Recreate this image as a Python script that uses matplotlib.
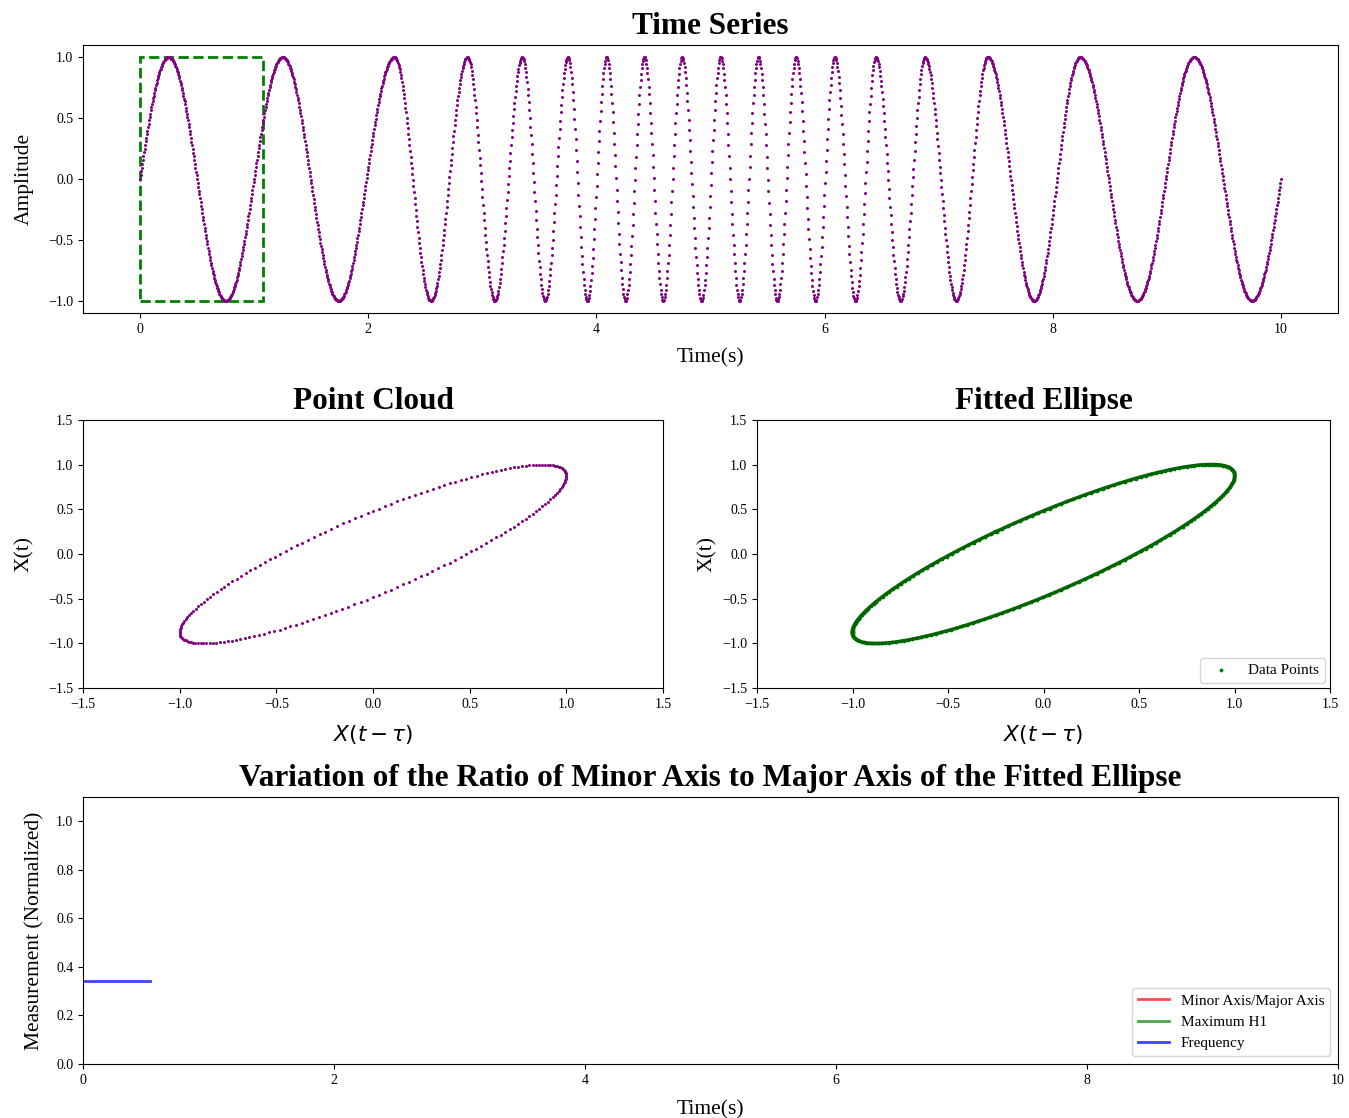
import numpy as np
import matplotlib
matplotlib.use("Agg")
import matplotlib.pyplot as plt
from matplotlib.patches import Rectangle

plt.rcParams['font.family'] = ['Liberation Serif', 'DejaVu Sans']
plt.rcParams['mathtext.fontset'] = 'dejavusans'
plt.rcParams['axes.unicode_minus'] = True

# peak times of the signal
peak_times = [0.25, 1.25, 2.23, 2.87, 3.35, 3.75, 4.09, 4.42, 4.75, 5.09,
              5.42, 5.75, 6.09, 6.45, 6.88, 7.43, 8.24, 9.24]
t_start, t_end = 0.0, 10.0
n_samples = 2000

# analysis window (green box) and embedding delay
window_end = 1.08
tau = 0.08

# bottom panel series
freq_t = [0.0, 0.53]
freq_val = [0.34, 0.34]
ratio_t, ratio_val = [], []
h1_t, h1_val = [], []

# build signal: phase (in cycles) pinned at each observed peak
knot_t = [t_start] + peak_times + [t_end]
knot_phase = [0.0] + [k + 0.25 for k in range(len(peak_times))] + [float(len(peak_times))]
t = np.linspace(t_start, t_end, n_samples)
x = np.sin(2 * np.pi * np.interp(t, knot_t, knot_phase))

dt = t[1] - t[0]
lag = int(round(tau / dt))
win = x[t <= window_end]
x_delay = win[:-lag]
x_now = win[lag:]

W, H = 1349, 1118
fig = plt.figure(figsize=(W / 100, H / 100), dpi=100)

def box(l, r, top, bot):
    return [l / W, 1 - bot / H, (r - l) / W, (bot - top) / H]

title_kw = dict(fontsize=22.5, fontweight='bold', pad=8)
lab_kw = dict(fontsize=15.5)

# --- Time series
ax1 = fig.add_axes(box(83, 1338, 45, 313))
ax1.plot(t, x, '.', color='purple', markersize=2.3)
ax1.add_patch(Rectangle((0, -1), window_end, 2, fill=False, edgecolor='green',
                        linestyle='--', linewidth=2))
ax1.set_title('Time Series', **title_kw)
ax1.set_xlabel('Time(s)', labelpad=9, **lab_kw)
ax1.set_ylabel('Amplitude', labelpad=10, **lab_kw)
ax1.set_yticks([-1.0, -0.5, 0.0, 0.5, 1.0])

# --- Point cloud
ax2 = fig.add_axes(box(83, 663, 420, 688))
ax2.plot(x_delay, x_now, '.', color='purple', markersize=2.3)
ax2.set_xlim(-1.5, 1.5)
ax2.set_ylim(-1.5, 1.5)
ax2.set_title('Point Cloud', **title_kw)
ax2.set_xlabel(r'$X(t-\tau)$', labelpad=9, **lab_kw)
ax2.set_ylabel('X(t)', labelpad=10, **lab_kw)

# --- Fitted ellipse (PCA fit of the embedded points)
pts = np.column_stack([x_delay, x_now])
center = pts.mean(axis=0)
evals, evecs = np.linalg.eigh(np.cov((pts - center).T))
axes_len = np.sqrt(2 * evals)
theta = np.linspace(0, 2 * np.pi, 400)
ell = center + (evecs @ np.vstack([axes_len[0] * np.cos(theta),
                                   axes_len[1] * np.sin(theta)])).T

ax3 = fig.add_axes(box(757, 1330, 420, 688))
ax3.plot(ell[:, 0], ell[:, 1], color='darkgreen', linewidth=2.5)
ax3.scatter(x_delay, x_now, s=3, color='green', label='Data Points')
ax3.set_xlim(-1.5, 1.5)
ax3.set_ylim(-1.5, 1.5)
ax3.set_title('Fitted Ellipse', **title_kw)
ax3.set_xlabel(r'$X(t-\tau)$', labelpad=9, **lab_kw)
ax3.set_ylabel('X(t)', labelpad=4, **lab_kw)
ax3.legend(loc='lower right', fontsize=11, borderaxespad=0.3)

# --- Ratio over time
ax4 = fig.add_axes(box(83, 1338, 797, 1064))
ax4.plot(ratio_t, ratio_val, color='red', alpha=0.7, linewidth=2, label='Minor Axis/Major Axis')
ax4.plot(h1_t, h1_val, color='green', alpha=0.7, linewidth=2, label='Maximum H1')
ax4.plot(freq_t, freq_val, color='blue', alpha=0.75, linewidth=2, label='Frequency')
ax4.set_xlim(0, 10)
ax4.set_ylim(0, 1.1)
ax4.set_title('Variation of the Ratio of Minor Axis to Major Axis of the Fitted Ellipse', **title_kw)
ax4.set_xlabel('Time(s)', labelpad=10, **lab_kw)
ax4.set_ylabel('Measurement (Normalized)', labelpad=8, **lab_kw)
ax4.legend(loc='lower right', fontsize=11)

for ax in (ax1, ax2, ax3, ax4):
    ax.tick_params(labelsize=10)

fig.savefig('out.png', dpi=100)
